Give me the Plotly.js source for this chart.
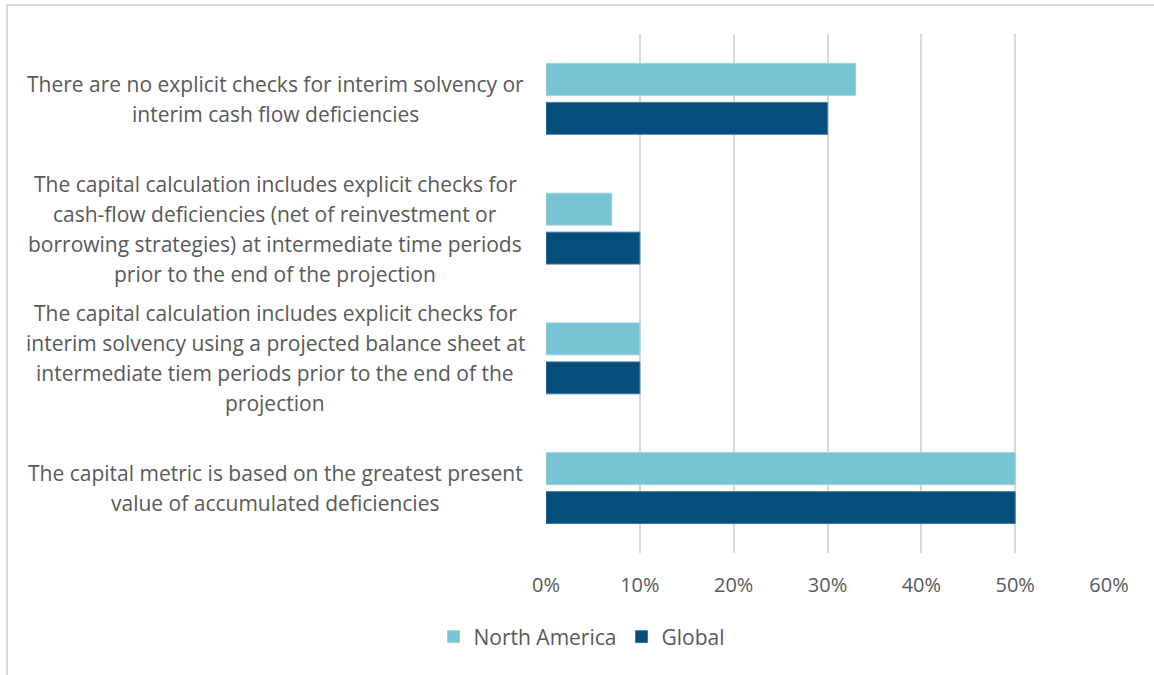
<!DOCTYPE html>
<html>
<head>
<meta charset="utf-8">
<script src="https://cdn.plot.ly/plotly-3.0.1.min.js"></script>
<style>
  html, body { margin: 0; padding: 0; background: #ffffff; }
  #frame {
    position: absolute; left: 6px; top: 4px; right: 0; bottom: 0;
    border-top: 2px solid #d9d9d9; border-left: 2px solid #d9d9d9;
    pointer-events: none;
  }
  #chart { position: absolute; left: 0; top: 0; width: 1154px; height: 675px; }
</style>
</head>
<body>
<div id="frame"></div>
<div id="chart"></div>
<script>
// Survey responses: how interim solvency / cash-flow checks enter the capital calculation
const categories = [
  "There are no explicit checks for interim solvency or|interim cash flow deficiencies",
  "The capital calculation includes explicit checks for|cash-flow deficiencies (net of reinvestment or|borrowing strategies) at intermediate time periods|prior to the end of the projection",
  "The capital calculation includes explicit checks for|interim solvency using a projected balance sheet at|intermediate tiem periods prior to the end of the|projection",
  "The capital metric is based on the greatest present|value of accumulated deficiencies"
];
const northAmerica = [0.33, 0.07, 0.10, 0.50];
const globalShare  = [0.30, 0.10, 0.10, 0.50];
const xTicks = [0, 0.1, 0.2, 0.3, 0.4, 0.5, 0.6];

const FONT = "'Open Sans', 'Noto Sans', sans-serif";
const GREY = "#595959";
const LINE_GAP = 30;   // pixel spacing between wrapped label lines

const catKeys = categories.map((c, i) => "c" + i);

const traces = [
  {
    type: "bar", orientation: "h", name: "North America",
    y: catKeys, x: northAmerica,
    marker: { color: "#78c4d4", line: { color: "#9ad3de", width: 1 } },
    hoverinfo: "x+name"
  },
  {
    type: "bar", orientation: "h", name: "Global",
    y: catKeys, x: globalShare,
    marker: { color: "#054d7b", line: { color: "#3f7aa0", width: 1 } },
    hoverinfo: "x+name"
  }
];

// Centred, wrapped category labels to the left of the plot
const annotations = [];
categories.forEach((label, i) => {
  const lines = label.split("|");
  const mid = (lines.length - 1) / 2;
  lines.forEach((ln, j) => {
    annotations.push({
      xref: "paper", yref: "y",
      x: (275 - 546) / 563, y: catKeys[i],
      xanchor: "center", yanchor: "middle",
      yshift: (mid - j) * LINE_GAP,
      text: ln, showarrow: false,
      font: { family: FONT, size: 21, color: GREY }
    });
  });
});

const layout = {
  width: 1154, height: 675,
  margin: { l: 546, r: 45, t: 34, b: 122, pad: 0 },
  paper_bgcolor: "rgba(0,0,0,0)",
  plot_bgcolor: "rgba(0,0,0,0)",
  barmode: "group",
  bargap: 0.4,
  bargroupgap: 0.18,
  font: { family: FONT, color: GREY, size: 20 },
  xaxis: {
    range: [0, 0.6],
    tickvals: xTicks,
    tickformat: ".0%",
    showgrid: true, gridcolor: "#d9d9d9", gridwidth: 2,
    zeroline: false, showline: false, ticks: "",
    ticklabelstandoff: 18,
    tickfont: { family: FONT, size: 20, color: GREY },
    fixedrange: true
  },
  yaxis: {
    autorange: "reversed",
    showticklabels: false, showgrid: false, zeroline: false, showline: false,
    ticks: "", fixedrange: true
  },
  showlegend: true,
  legend: {
    orientation: "h",
    x: (582 - 546) / 563, xanchor: "center",
    y: (553 - 637) / 519, yanchor: "middle",
    font: { family: FONT, size: 21, color: GREY },
    itemwidth: 30, traceorder: "normal"
  },
  annotations: annotations
};

Plotly.newPlot("chart", traces, layout, { displayModeBar: false, staticPlot: true });
</script>
</body>
</html>
